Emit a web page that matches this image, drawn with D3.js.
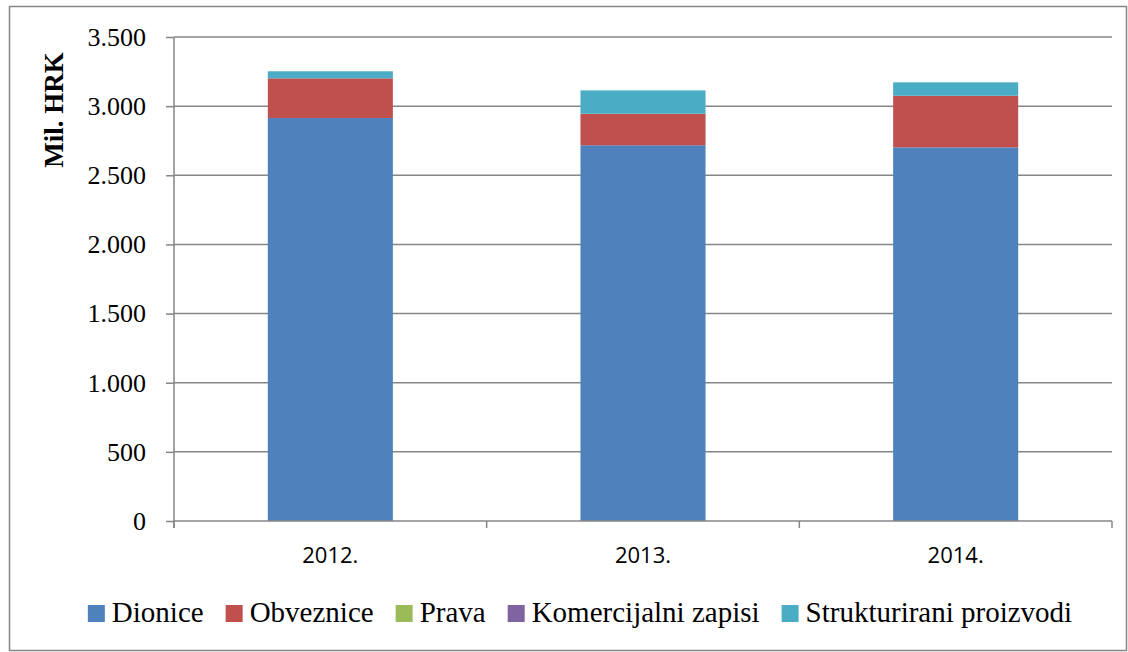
<!DOCTYPE html>
<html>
<head>
<meta charset="utf-8">
<script src="https://cdn.jsdelivr.net/npm/d3@7"></script>
<style>
  body { margin: 0; background: #fff; }
</style>
</head>
<body>
<script>
// Data
var years = ["2012.", "2013.", "2014."];
var seriesNames = ["Dionice", "Obveznice", "Prava", "Komercijalni zapisi", "Strukturirani proizvodi"];
var dionice = [2914, 2717, 2702];
var obveznice = [287, 228, 373];
var prava = [0, 0, 0];
var komercijalni = [0, 0, 0];
var strukturirani = [51, 169, 97];
var colors = ["#4F81BD", "#C0504D", "#9BBB59", "#8064A2", "#4BACC6"];
var yTicks = [0, 500, 1000, 1500, 2000, 2500, 3000, 3500];

var w = 1128, h = 652;
var plotLeft = 174, plotRight = 1112, plotTop = 37, plotBottom = 521;
var serif = "Liberation Serif, Times New Roman, serif";

var svg = d3.select("body").append("svg")
    .attr("width", w)
    .attr("height", h);

// outer border
svg.append("rect")
    .attr("x", 9.5).attr("y", 6.5)
    .attr("width", 1117).attr("height", 644)
    .attr("fill", "none")
    .attr("stroke", "#868686")
    .attr("stroke-width", 1.5);

var rows = years.map(function(yr, i) {
  return {
    year: yr,
    "Dionice": dionice[i],
    "Obveznice": obveznice[i],
    "Prava": prava[i],
    "Komercijalni zapisi": komercijalni[i],
    "Strukturirani proizvodi": strukturirani[i]
  };
});

var x = d3.scaleBand()
    .domain(years)
    .range([plotLeft, plotRight])
    .paddingInner(0.6)
    .paddingOuter(0.3);

var y = d3.scaleLinear()
    .domain([0, 3500])
    .range([plotBottom, plotTop]);

// gridlines
svg.append("g")
  .selectAll("line")
  .data(yTicks.slice(1))
  .enter().append("line")
    .attr("x1", plotLeft).attr("x2", plotRight)
    .attr("y1", function(d) { return y(d); })
    .attr("y2", function(d) { return y(d); })
    .attr("stroke", "#868686")
    .attr("stroke-width", 1.5);

// stacked bars
var stack = d3.stack().keys(seriesNames);
var layers = stack(rows);

svg.append("g")
  .selectAll("g")
  .data(layers)
  .enter().append("g")
    .attr("fill", function(d, i) { return colors[i]; })
  .selectAll("rect")
  .data(function(d) { return d; })
  .enter().append("rect")
    .attr("x", function(d) { return x(d.data.year); })
    .attr("width", x.bandwidth())
    .attr("y", function(d) { return y(d[1]); })
    .attr("height", function(d) { return y(d[0]) - y(d[1]); });

// y axis
var yAxis = d3.axisLeft(y)
    .tickValues(yTicks)
    .tickSize(8)
    .tickPadding(20)
    .tickFormat(function(d) { return d3.format(",")(d).replace(/,/g, "."); });

var gy = svg.append("g")
    .attr("transform", "translate(" + plotLeft + ",0)")
    .call(yAxis);
gy.select(".domain").attr("stroke", "#868686").attr("stroke-width", 1.5)
    .attr("d", "M0," + plotTop + "V" + (plotBottom + 7));
gy.selectAll(".tick line").attr("stroke", "#868686").attr("stroke-width", 1.5);
gy.selectAll(".tick text")
    .attr("font-family", serif)
    .attr("font-size", 26)
    .attr("fill", "#000");

// x axis
var xAxis = d3.axisBottom(x).tickSize(0).tickPadding(26);
var gx = svg.append("g")
    .attr("transform", "translate(0," + plotBottom + ")")
    .call(xAxis);
gx.select(".domain").attr("stroke", "#868686").attr("stroke-width", 1.5)
    .attr("d", "M" + plotLeft + ",0H" + plotRight);
gx.selectAll(".tick text")
    .attr("font-family", "Open Sans, sans-serif")
    .attr("font-size", 22)
    .attr("fill", "#000");

// x tick marks at category boundaries
var step = x.step();
var bounds = [0, 1, 2, 3].map(function(i) { return plotLeft + i * step; });
svg.append("g")
  .selectAll("line")
  .data(bounds)
  .enter().append("line")
    .attr("x1", function(d) { return d; })
    .attr("x2", function(d) { return d; })
    .attr("y1", plotBottom).attr("y2", plotBottom + 7)
    .attr("stroke", "#868686")
    .attr("stroke-width", 1.5);

// y label
svg.append("text")
    .attr("transform", "translate(63,110) rotate(-90)")
    .attr("text-anchor", "middle")
    .attr("font-family", serif)
    .attr("font-weight", "bold")
    .attr("font-size", 27)
    .text("Mil. HRK");

// legend
var legend = svg.append("g");
var pos = 0;
seriesNames.forEach(function(name, i) {
  var item = legend.append("g").attr("transform", "translate(" + pos + ",0)");
  item.append("rect")
    .attr("x", 0).attr("y", -17)
    .attr("width", 17).attr("height", 17)
    .attr("fill", colors[i]);
  var t = item.append("text")
    .attr("x", 24).attr("y", 0)
    .attr("font-family", serif)
    .attr("font-size", 29)
    .text(name);
  pos += 24 + t.node().getComputedTextLength() + 22;
});
var legendWidth = pos - 22;
legend.attr("transform", "translate(" + (580 - legendWidth / 2) + ",622)");
</script>
</body>
</html>
